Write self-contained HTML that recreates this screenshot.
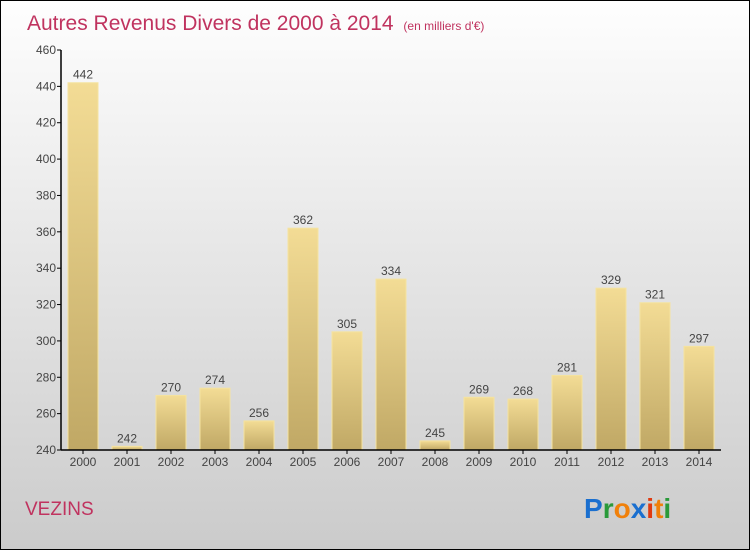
<!DOCTYPE html>
<html><head><meta charset="utf-8"><style>
body{margin:0}
#wrap{position:relative;width:748px;height:548px;border:1px solid #000;background:linear-gradient(#fefefe,#cbcbcb);font-family:"Liberation Sans",sans-serif;overflow:hidden}
</style></head><body>
<div id="wrap">
<svg id="chart" width="748" height="548" style="position:absolute;left:0;top:0">
<defs>
<linearGradient id="bg" x1="0" y1="0" x2="0" y2="1"><stop offset="0" stop-color="#f3dc95"/><stop offset="1" stop-color="#c0a865"/></linearGradient>
</defs>
<text x="26" y="29" font-size="21" fill="#c0335f">Autres Revenus Divers de 2000 à 2014 <tspan font-size="12" dx="4">(en milliers d'€)</tspan></text>
<text x="24" y="514" font-size="19" fill="#c0335f">VEZINS</text>
<g font-size="28" font-weight="bold">
<text x="583" y="517" fill="#1a6fcf">P<tspan fill="#2a9a3a">r</tspan><tspan fill="#f0800a">o</tspan><tspan fill="#1a6fcf">x</tspan><tspan fill="#e03a10">i</tspan><tspan fill="#f0800a">t</tspan><tspan fill="#2a9a3a">i</tspan></text>
</g>
<g id="plot"></g>
</svg>
</div>
<script>
const categories=["2000","2001","2002","2003","2004","2005","2006","2007","2008","2009","2010","2011","2012","2013","2014"];
const values=[442,242,270,274,256,362,305,334,245,269,268,281,329,321,297];
const yTicks=[240,260,280,300,320,340,360,380,400,420,440,460];
const x0=60,y0=449,pxPerUnit=400/220,slot=44,bw=30;
function yScale(v){return y0-(v-240)*pxPerUnit;}
function xCenter(i){return x0+22+i*slot;}
const g=document.getElementById('plot');
const NS='http://www.w3.org/2000/svg';
function mk(t,a){const e=document.createElementNS(NS,t);for(const k in a)e.setAttribute(k,a[k]);g.appendChild(e);return e;}
values.forEach((v,i)=>{
 const r=mk('rect',{x:xCenter(i)-bw/2,y:yScale(v),width:bw,height:y0-yScale(v),fill:'url(#bg)',stroke:'#f5e3a0','stroke-width':1});
 
 
 const t=mk('text',{x:xCenter(i),y:yScale(v)-4,'font-size':12,'text-anchor':'middle',fill:'#444'});
 t.textContent=v;
 
 
 const c=mk('text',{x:xCenter(i),y:y0+16,'font-size':12,'text-anchor':'middle',fill:'#444'});
 c.textContent=categories[i];
 
 
 mk('line',{x1:xCenter(i),x2:xCenter(i),y1:y0,y2:y0+4,stroke:'#000'});
});
yTicks.forEach(v=>{
 mk('line',{x1:x0-4,x2:x0,y1:yScale(v),y2:yScale(v),stroke:'#000'});
 const t=mk('text',{x:x0-5,y:yScale(v)+4,'font-size':12,'text-anchor':'end',fill:'#444'});
 t.textContent=v;
 
 
});
const ya=mk('line',{x1:x0,x2:x0,y1:yScale(460),y2:y0,stroke:'#000','stroke-width':1.5});


const xa=mk('line',{x1:x0,x2:x0+15*slot,y1:y0,y2:y0,stroke:'#000','stroke-width':1.5});


</script>
</body></html>
